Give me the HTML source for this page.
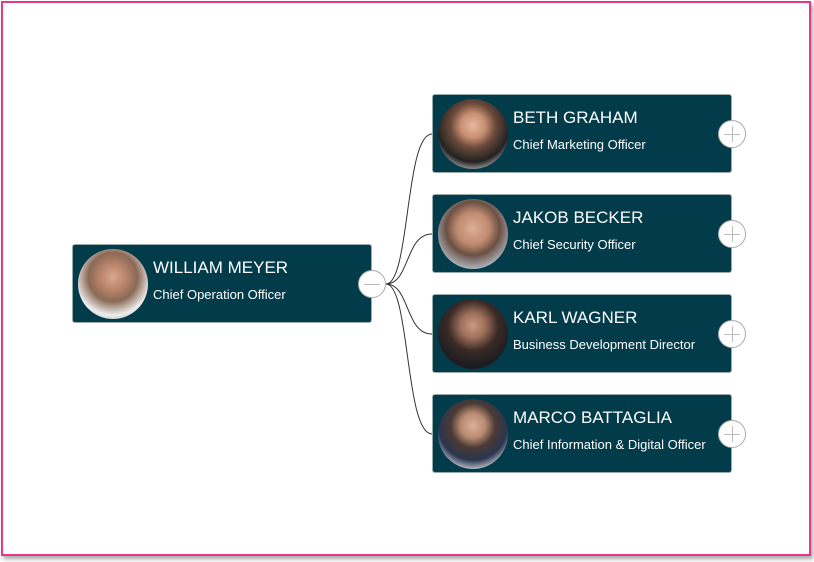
<!DOCTYPE html>
<html><head><style>
body{margin:0;width:814px;height:562px;background:#fff;position:relative;overflow:hidden;font-family:"Segoe UI","Liberation Sans",sans-serif}
.frame{position:absolute;left:1px;top:1px;width:806px;height:551px;border:2px solid #e8368a;box-shadow:2px 3px 4px rgba(0,0,0,.35)}
.node{position:absolute;width:298px;height:77px;background:#023b4a;border:1px solid #9aa;border-radius:3px;color:#fff}
.ph{position:absolute;left:5px;top:4px;width:70px;height:70px;border-radius:50%}
.nm{position:absolute;left:80px;top:13px;font-size:17px;white-space:nowrap}
.tt{position:absolute;left:80px;top:42px;font-size:13px;white-space:nowrap;width:196px;overflow:hidden;text-overflow:ellipsis}
.btn{position:absolute;width:28px;height:28px;border-radius:50%;background:#fff;border:1px solid #aaa;box-sizing:border-box}
.btn:before{content:"";position:absolute;left:5px;top:13px;width:16px;height:1px;background:#bbb}
.plus:after{content:"";position:absolute;left:13px;top:5px;width:1px;height:16px;background:#bbb}
</style></head><body>
<div class="frame"></div>
<svg width="814" height="562" style="position:absolute;left:0;top:0">
<g fill="none" stroke="#333" stroke-width="1">
<path d="M386 284 C410 284,405 134,432 134"/>
<path d="M386 284 C410 284,405 234,432 234"/>
<path d="M386 284 C410 284,405 334,432 334"/>
<path d="M386 284 C410 284,405 434,432 434"/>
</g></svg>
<div class="node" style="left:72px;top:244px"><div class="ph" style="background:radial-gradient(circle at 50% 40%,#d8a88c 0,#b7826a 25%,#8a6a55 45%,#eeeeee 70%,#9aa 90%)"></div><div class="nm">WILLIAM MEYER</div><div class="tt">Chief Operation Officer</div></div>
<div class="node" style="left:432px;top:94px"><div class="ph" style="background:radial-gradient(circle at 50% 38%,#e6b8a0 0,#c98f72 22%,#6a4a3a 40%,#222 65%,#eee 90%)"></div><div class="nm">BETH GRAHAM</div><div class="tt">Chief Marketing Officer</div></div>
<div class="node" style="left:432px;top:194px"><div class="ph" style="background:radial-gradient(circle at 50% 42%,#dcae96 0,#c08a70 30%,#6a5044 50%,#b8c4d0 80%)"></div><div class="nm">JAKOB BECKER</div><div class="tt">Chief Security Officer</div></div>
<div class="node" style="left:432px;top:294px"><div class="ph" style="background:radial-gradient(circle at 50% 38%,#c99a80 0,#a0705a 22%,#3a2a26 45%,#1e1e22 70%)"></div><div class="nm">KARL WAGNER</div><div class="tt">Business Development Director</div></div>
<div class="node" style="left:432px;top:394px"><div class="ph" style="background:radial-gradient(circle at 50% 38%,#dcb09a 0,#b88a72 22%,#4a3a34 40%,#2a3550 62%,#f0f0f0 85%)"></div><div class="nm">MARCO BATTAGLIA</div><div class="tt">Chief Information &amp; Digital Officer</div></div>
<div class="btn" style="left:358px;top:270px"></div>
<div class="btn plus" style="left:718px;top:120px"></div>
<div class="btn plus" style="left:718px;top:220px"></div>
<div class="btn plus" style="left:718px;top:320px"></div>
<div class="btn plus" style="left:718px;top:420px"></div>
</body></html>
